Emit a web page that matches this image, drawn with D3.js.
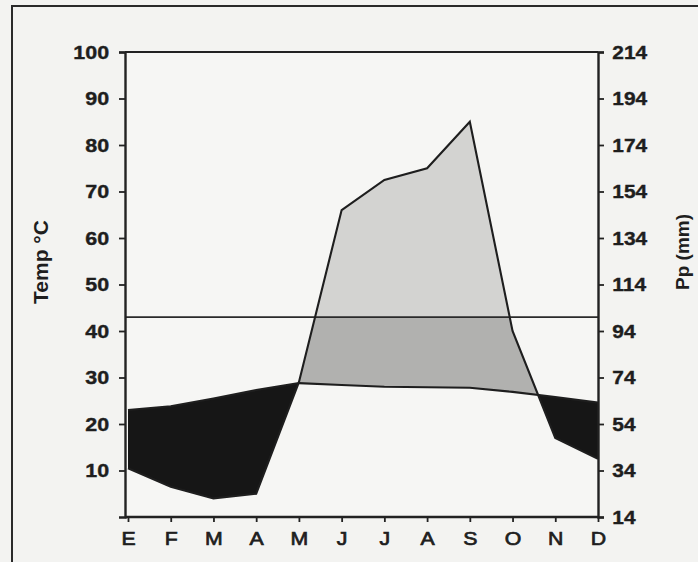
<!DOCTYPE html>
<html><head><meta charset="utf-8">
<script src="https://cdn.jsdelivr.net/npm/d3@7"></script>
<style>
body{margin:0;background:#f3f3f1;}
svg{display:block;}
</style></head>
<body><svg id="c" width="698" height="562"></svg>
<script>
// ---- data ----
const months = ["E","F","M","A","M","J","J","A","S","O","N","D"];
const temperature = [23.0, 23.8, 25.5, 27.3, 28.8, 28.4, 28.0, 27.9, 27.8, 26.9, 25.8, 24.6]; // °C
const precipitation = [35, 27, 22, 24, 72, 146, 159, 164, 184, 94, 48, 39]; // mm
const tempTicks = [10, 20, 30, 40, 50, 60, 70, 80, 90, 100];
const ppTicks = [14, 34, 54, 74, 94, 114, 134, 154, 174, 194, 214];
const humidLimit = 100; // mm

// ---- layout ----
const svg = d3.select("#c");
const L = 125, R = 598, T = 52, B = 517;
const x = d3.scalePoint().domain(d3.range(months.length)).range([128, R]);
const yT = d3.scaleLinear().domain([0, 100]).range([B, T]);
const yP = d3.scaleLinear().domain([14, 214]).range([B, T]);
const idx = d3.range(months.length);

// outer frame
svg.append("rect").attr("x", 12).attr("y", 6).attr("width", 720).attr("height", 600)
  .attr("fill", "#f3f3f1").attr("stroke", "#2a2a2a").attr("stroke-width", 2);
svg.append("rect").attr("x", L).attr("y", T).attr("width", R - L).attr("height", B - T)
  .attr("fill", "#f6f6f4");

const defs = svg.append("defs");
defs.append("clipPath").attr("id", "belowTemp").append("path")
  .attr("d", d3.area().x(i => x(i)).y0(B).y1(i => yT(temperature[i]))(idx));
defs.append("clipPath").attr("id", "aboveTemp").append("path")
  .attr("d", d3.area().x(i => x(i)).y0(T).y1(i => yT(temperature[i]))(idx));
defs.append("clipPath").attr("id", "belowPrecip").append("path")
  .attr("d", d3.area().x(i => x(i)).y0(B).y1(i => yP(precipitation[i]))(idx));

// dry period (black): above precip, below temperature
svg.append("g").attr("clip-path", "url(#belowTemp)")
  .append("path")
  .attr("d", d3.area().x(i => x(i)).y0(T).y1(i => yP(precipitation[i]))(idx))
  .attr("fill", "#161616");

// humid period: above temperature, below precip
const wet = svg.append("g").attr("clip-path", "url(#belowPrecip)")
  .append("g").attr("clip-path", "url(#aboveTemp)");
wet.append("rect").attr("x", L).attr("y", T).attr("width", R - L)
  .attr("height", yP(humidLimit) - T).attr("fill", "#d3d3d1");
wet.append("rect").attr("x", L).attr("y", yP(humidLimit)).attr("width", R - L)
  .attr("height", B - yP(humidLimit)).attr("fill", "#b1b1af");

// 100 mm line
svg.append("line").attr("x1", L).attr("x2", R)
  .attr("y1", yP(humidLimit)).attr("y2", yP(humidLimit))
  .attr("stroke", "#2a2a2a").attr("stroke-width", 1.8);

// curves
svg.append("path").datum(idx)
  .attr("d", d3.line().x(i => x(i)).y(i => yT(temperature[i])))
  .attr("fill", "none").attr("stroke", "#1e1e1e").attr("stroke-width", 2.1);
svg.append("path").datum(idx)
  .attr("d", d3.line().x(i => x(i)).y(i => yP(precipitation[i])))
  .attr("fill", "none").attr("stroke", "#1e1e1e").attr("stroke-width", 2.1);

// top border of plot
svg.append("line").attr("x1", L).attr("x2", R).attr("y1", T).attr("y2", T)
  .attr("stroke", "#222").attr("stroke-width", 2.2);

// axes
const font = "Liberation Sans, Arial, sans-serif";
const gl = svg.append("g").attr("transform", `translate(${L},0)`)
  .call(d3.axisLeft(yT).tickValues(tempTicks).tickSize(6).tickPadding(8));
const gr = svg.append("g").attr("transform", `translate(${R},0)`)
  .call(d3.axisRight(yP).tickValues(ppTicks).tickSize(6).tickPadding(7));
const gb = svg.append("g").attr("transform", `translate(0,${B})`)
  .call(d3.axisBottom(x).tickFormat(i => months[i]).tickSize(5).tickPadding(10));
gb.select(".domain").attr("d", `M${L},0H${R}`);

[gl, gr, gb].forEach(g => {
  g.select(".domain").attr("stroke", "#222").attr("stroke-width", 2.4);
  g.selectAll(".tick line").attr("stroke", "#222").attr("stroke-width", 1.8);
  g.selectAll("text").attr("fill", "#1e1e1e").attr("font-family", font)
    .attr("stroke", "#1e1e1e").attr("stroke-width", 0.4);
});
gl.selectAll("text").attr("font-size", 19).attr("font-weight", "bold").attr("transform", "scale(1.13,1)");
gr.selectAll("text").attr("font-size", 19).attr("font-weight", "bold").attr("transform", "scale(1.1,1)");
gb.selectAll("text").attr("font-size", 18.5).attr("stroke-width", 0.7).attr("transform", "scale(1.15,1)");

// axis titles
svg.append("text").attr("transform", "translate(48,262) rotate(-90)")
  .attr("text-anchor", "middle").attr("font-family", font).attr("font-weight", "bold")
  .attr("font-size", 21).attr("fill", "#1e1e1e").text("Temp °C");
svg.append("text").attr("transform", "translate(689,252) rotate(-90)")
  .attr("text-anchor", "middle").attr("font-family", font).attr("font-weight", "bold")
  .attr("font-size", 19).attr("fill", "#1e1e1e").text("Pp (mm)");
</script>
</body></html>
